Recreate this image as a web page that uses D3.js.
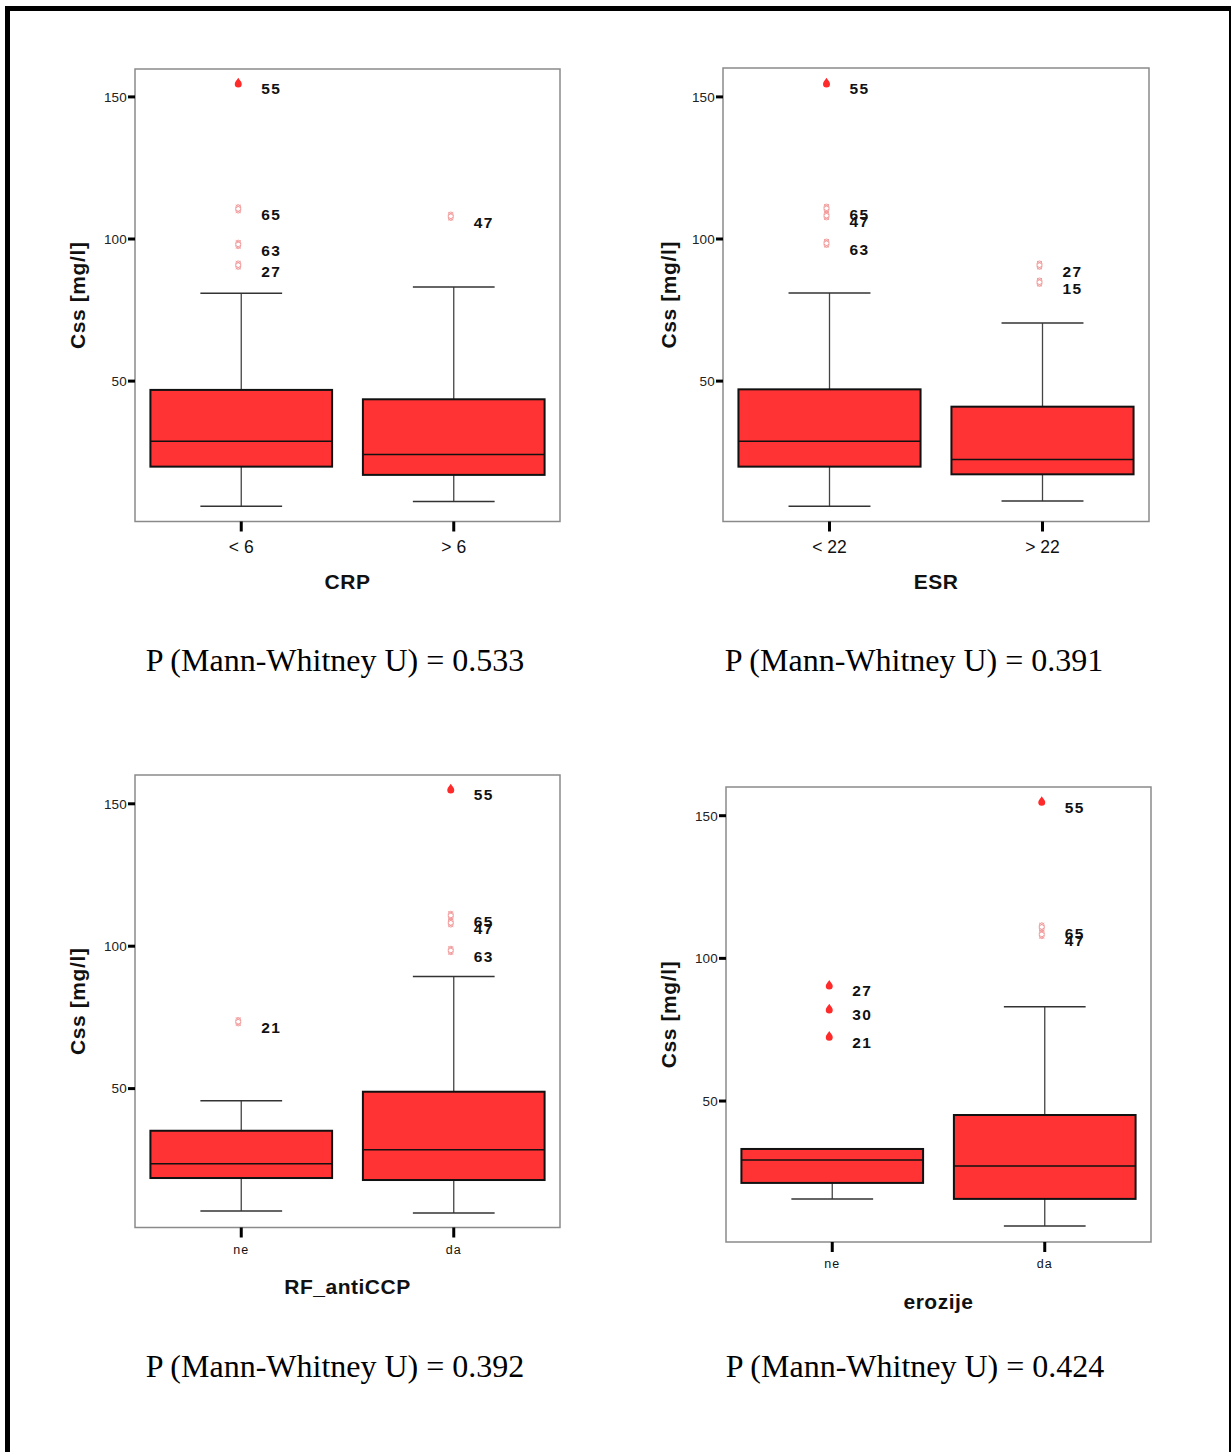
<!DOCTYPE html>
<html><head><meta charset="utf-8">
<script src="https://cdn.jsdelivr.net/npm/d3@7"></script>
<style>body{margin:0;background:#fff}svg{display:block}</style>
</head><body>
<script>
// ---------- DATA ----------
const panelTitles = ["CRP", "ESR", "RF_antiCCP", "erozije"];
const pValues = ["0.533", "0.391", "0.392", "0.424"];
const yTicks = [50, 100, 150];

const crpCats = ["< 6", "> 6"];
// [lower whisker, Q1, median, Q3, upper whisker]
const crpStats = [[6.0, 19.9, 28.8, 46.9, 80.9], [7.6, 17.0, 24.2, 43.6, 83.1]];
const crpOutliers = [
  {cat: 0, v: 155.0, id: "55", extreme: true},
  {cat: 0, v: 110.6, id: "65", extreme: false},
  {cat: 0, v: 98.1, id: "63", extreme: false},
  {cat: 0, v: 90.8, id: "27", extreme: false},
  {cat: 1, v: 108.0, id: "47", extreme: false}
];

const esrCats = ["< 22", "> 22"];
const esrStats = [[6.0, 19.9, 28.8, 47.1, 81.0], [7.8, 17.2, 22.4, 41.0, 70.4]];
const esrOutliers = [
  {cat: 0, v: 155.0, id: "55", extreme: true},
  {cat: 0, v: 110.8, id: "65", extreme: false},
  {cat: 0, v: 108.2, id: "47", extreme: false},
  {cat: 0, v: 98.5, id: "63", extreme: false},
  {cat: 1, v: 90.8, id: "27", extreme: false},
  {cat: 1, v: 84.8, id: "15", extreme: false}
];

const rfCats = ["ne", "da"];
const rfStats = [[7.0, 18.6, 23.6, 35.2, 45.7], [6.3, 17.9, 28.5, 48.9, 89.4]];
const rfOutliers = [
  {cat: 0, v: 73.5, id: "21", extreme: false},
  {cat: 1, v: 155.3, id: "55", extreme: true},
  {cat: 1, v: 110.8, id: "65", extreme: false},
  {cat: 1, v: 108.2, id: "47", extreme: false},
  {cat: 1, v: 98.5, id: "63", extreme: false}
];

const erozCats = ["ne", "da"];
const erozStats = [[15.7, 21.3, 29.3, 33.2, 33.2], [6.2, 15.7, 27.2, 45.1, 83.0]];
const erozOutliers = [
  {cat: 0, v: 90.7, id: "27", extreme: true},
  {cat: 0, v: 82.3, id: "30", extreme: true},
  {cat: 0, v: 72.8, id: "21", extreme: true},
  {cat: 1, v: 155.1, id: "55", extreme: true},
  {cat: 1, v: 111.0, id: "65", extreme: false},
  {cat: 1, v: 108.4, id: "47", extreme: false}
];

// ---------- LAYOUT ----------
const W = 1231, H = 1452;
const layouts = [
  {cats: crpCats, stats: crpStats, out: crpOutliers, x0: 135, x1: 560, top: 69, bot: 521.5, y0px: 523.2, y150px: 96.9, yLabX: 77, xLabY: 553, xLabSize: 17.5, titleY: 589, pY: 671, pX: 335},
  {cats: esrCats, stats: esrStats, out: esrOutliers, x0: 723, x1: 1149, top: 68, bot: 521.5, y0px: 523.2, y150px: 96.9, yLabX: 668, xLabY: 553, xLabSize: 17.5, titleY: 589, pY: 671, pX: 914},
  {cats: rfCats, stats: rfStats, out: rfOutliers, x0: 135, x1: 560, top: 775, bot: 1227.5, y0px: 1231.0, y150px: 803.8, yLabX: 77, xLabY: 1254, xLabSize: 12.5, titleY: 1294, pY: 1377, pX: 335},
  {cats: erozCats, stats: erozStats, out: erozOutliers, x0: 726, x1: 1151, top: 787, bot: 1242, y0px: 1243.7, y150px: 815.7, yLabX: 668, xLabY: 1268, xLabSize: 12.5, titleY: 1309, pY: 1377, pX: 915}
];

const svg = d3.select("body").append("svg").attr("width", W).attr("height", H);
svg.append("rect").attr("width", W).attr("height", H).attr("fill", "#fff");

// outer border
svg.append("rect").attr("x", 5).attr("y", 6).attr("width", 5).attr("height", H).attr("fill", "#000");
svg.append("rect").attr("x", 5).attr("y", 6).attr("width", 1226).attr("height", 5).attr("fill", "#000");
svg.append("rect").attr("x", 1229).attr("y", 6).attr("width", 2).attr("height", H).attr("fill", "#000");

const boxFill = "#ff3333";
const pink = "#f39a9a";

layouts.forEach((L, i) => {
  const g = svg.append("g");
  const x = d3.scalePoint().domain(L.cats).range([L.x0, L.x1]).padding(0.5);
  const y = d3.scaleLinear().domain([0, 150]).range([L.y0px, L.y150px]);
  const step = x.step();
  const bw = step * 0.855;
  const cw = bw * 0.45;

  // frame
  g.append("rect").attr("x", L.x0).attr("y", L.top).attr("width", L.x1 - L.x0).attr("height", L.bot - L.top)
    .attr("fill", "none").attr("stroke", "#8a8a8a").attr("stroke-width", 1.5);

  // y ticks
  yTicks.forEach(t => {
    g.append("line").attr("x1", L.x0 - 7).attr("x2", L.x0).attr("y1", y(t)).attr("y2", y(t))
      .attr("stroke", "#000").attr("stroke-width", 3);
    g.append("text").attr("x", L.x0 - 8).attr("y", y(t)).attr("dy", "0.36em").attr("text-anchor", "end")
      .attr("font-family", "Liberation Sans, Arial, sans-serif").attr("font-size", 13.5).attr("letter-spacing", "0.2px")
      .attr("fill", "#222").text(t);
  });

  // x ticks
  L.cats.forEach(c => {
    g.append("line").attr("x1", x(c)).attr("x2", x(c)).attr("y1", L.bot).attr("y2", L.bot + 10)
      .attr("stroke", "#000").attr("stroke-width", 3);
    g.append("text").attr("x", x(c)).attr("y", L.xLabY).attr("text-anchor", "middle")
      .attr("font-family", "Liberation Sans, Arial, sans-serif").attr("font-size", L.xLabSize)
      .attr("letter-spacing", L.xLabSize < 14 ? "1px" : "0px")
      .attr("fill", "#111").text(c);
  });

  // boxes
  L.stats.forEach((s, k) => {
    const cx = x(L.cats[k]);
    const [lo, q1, med, q3, hi] = s;
    g.append("line").attr("x1", cx).attr("x2", cx).attr("y1", y(hi)).attr("y2", y(q3)).attr("stroke", "#444").attr("stroke-width", 1.3);
    g.append("line").attr("x1", cx).attr("x2", cx).attr("y1", y(q1)).attr("y2", y(lo)).attr("stroke", "#444").attr("stroke-width", 1.3);
    g.append("line").attr("x1", cx - cw / 2).attr("x2", cx + cw / 2).attr("y1", y(hi)).attr("y2", y(hi)).attr("stroke", "#333").attr("stroke-width", 1.5);
    g.append("line").attr("x1", cx - cw / 2).attr("x2", cx + cw / 2).attr("y1", y(lo)).attr("y2", y(lo)).attr("stroke", "#333").attr("stroke-width", 1.5);
    g.append("rect").attr("x", cx - bw / 2).attr("y", y(q3)).attr("width", bw).attr("height", y(q1) - y(q3))
      .attr("fill", boxFill).attr("stroke", "#111").attr("stroke-width", 2);
    g.append("line").attr("x1", cx - bw / 2).attr("x2", cx + bw / 2).attr("y1", y(med)).attr("y2", y(med))
      .attr("stroke", "#111").attr("stroke-width", 1.5);
  });

  // outliers
  L.out.forEach(o => {
    const cx = x(L.cats[o.cat]) - 3, cy = y(o.v);
    if (o.extreme) {
      g.append("path").attr("d", `M${cx},${cy - 5} C${cx + 1},${cy - 3} ${cx + 3.5},${cy - 1} ${cx + 3.5},${cy + 1.2} A3.5,3.5 0 1 1 ${cx - 3.5},${cy + 1.2} C${cx - 3.5},${cy - 1} ${cx - 1},${cy - 3} ${cx},${cy - 5} Z`)
        .attr("fill", "#ff2a2a");
    } else {
      const m = g.append("g").attr("transform", `translate(${cx},${cy})`).attr("fill", "none").attr("stroke", pink).attr("stroke-width", 1);
      m.append("path").attr("d", "M-2.5,-4 L2.5,-1 M2.5,-4 L-2.5,-1 M-2.5,1 L2.5,4 M2.5,1 L-2.5,4");
      m.append("ellipse").attr("cx", 0).attr("cy", 0).attr("rx", 2.5).attr("ry", 4.2);
    }
    g.append("text").attr("x", cx + 23).attr("y", cy + 6).attr("dy", "0.36em")
      .attr("font-family", "Liberation Sans, Arial, sans-serif").attr("font-weight", "bold").attr("font-size", 15.5)
      .attr("letter-spacing", "1.5px").attr("fill", "#111").text(o.id);
  });

  // y label
  const yc = (L.top + L.bot) / 2;
  g.append("text").attr("transform", `translate(${L.yLabX},${yc}) rotate(-90)`).attr("dy", "0.36em").attr("text-anchor", "middle")
    .attr("font-family", "Liberation Sans, Arial, sans-serif").attr("font-weight", "bold").attr("font-size", 21)
    .attr("letter-spacing", "0.6px").attr("fill", "#111").text("Css [mg/l]");

  // x title
  g.append("text").attr("x", (L.x0 + L.x1) / 2).attr("y", L.titleY).attr("text-anchor", "middle")
    .attr("font-family", "Liberation Sans, Arial, sans-serif").attr("font-weight", "bold").attr("font-size", 21)
    .attr("letter-spacing", "0.5px").attr("fill", "#111").text(panelTitles[i]);

  // p value
  g.append("text").attr("x", L.pX).attr("y", L.pY).attr("text-anchor", "middle")
    .attr("font-family", "Liberation Serif, Times New Roman, serif").attr("font-size", 32)
    .attr("fill", "#000").text(`P (Mann-Whitney U) = ${pValues[i]}`);
});
</script>
</body></html>
